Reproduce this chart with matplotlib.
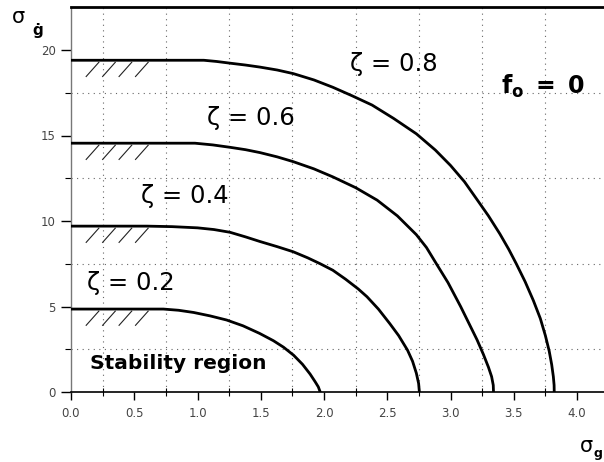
import numpy as np
import matplotlib
matplotlib.use("Agg")
import matplotlib.pyplot as plt
from matplotlib.ticker import MultipleLocator

# curves (sigma_g, sigma_gdot), one per damping ratio
zeta = [0.2, 0.4, 0.6, 0.8]

x_02 = [0.0, 0.73, 0.85, 0.97, 1.1, 1.23, 1.36, 1.49, 1.6, 1.68, 1.76, 1.83,
        1.89, 1.93, 1.955, 1.97]
y_02 = [4.85, 4.85, 4.78, 4.65, 4.45, 4.21, 3.87, 3.43, 3.0, 2.62, 2.15, 1.62,
        1.05, 0.6, 0.3, 0.0]

x_04 = [0.0, 0.6, 0.8, 1.0, 1.13, 1.257, 1.38, 1.494, 1.63, 1.757, 1.87, 1.97,
        2.07, 2.17, 2.27, 2.34, 2.43, 2.52, 2.59, 2.66, 2.70, 2.73, 2.748, 2.754]
y_04 = [9.7, 9.7, 9.67, 9.6, 9.5, 9.34, 9.07, 8.8, 8.5, 8.2, 7.85, 7.5,
        7.12, 6.6, 6.03, 5.57, 4.85, 4.0, 3.3, 2.45, 1.8, 1.1, 0.5, 0.0]

x_06 = [0.0, 0.98, 1.12, 1.257, 1.38, 1.494, 1.63, 1.757, 1.92, 2.07, 2.25, 2.42,
        2.58, 2.73, 2.81, 2.88, 2.98, 3.08, 3.15, 3.21, 3.26, 3.30, 3.325, 3.338, 3.34]
y_06 = [14.55, 14.55, 14.45, 14.31, 14.17, 14.0, 13.75, 13.47, 13.05, 12.58, 11.95, 11.22,
        10.3, 9.2, 8.45, 7.6, 6.4, 5.0, 3.95, 3.05, 2.2, 1.45, 0.9, 0.4, 0.0]

x_08 = [0.0, 1.05, 1.15, 1.257, 1.38, 1.494, 1.63, 1.757, 1.92, 2.07, 2.22, 2.38,
        2.55, 2.73, 2.88, 3.0, 3.11, 3.21, 3.30, 3.39, 3.46, 3.52, 3.59, 3.655,
        3.71, 3.75, 3.78, 3.80, 3.813, 3.819, 3.82]
y_08 = [19.4, 19.4, 19.33, 19.23, 19.12, 19.0, 18.83, 18.62, 18.25, 17.82, 17.33, 16.78,
        16.0, 15.1, 14.15, 13.25, 12.3, 11.25, 10.3, 9.25, 8.35, 7.5, 6.45, 5.35,
        4.3, 3.3, 2.4, 1.6, 0.9, 0.4, 0.0]

curves_x = [x_02, x_04, x_06, x_08]
curves_y = [y_02, y_04, y_06, y_08]

# label positions (data coords) for zeta texts
label_x = [0.47, 0.90, 1.42, 2.55]
label_y = [6.36, 11.45, 16.0, 19.2]

# hatch strokes under the flat part
hatch_x = [0.12, 0.25, 0.38, 0.51]

fig = plt.figure(figsize=(6.04, 4.62), dpi=100)
ax = fig.add_axes([71 / 604, 70 / 462, 1 - 71 / 604, (392 - 7.3) / 462])

for cx, cy in zip(curves_x, curves_y):
    ax.plot(cx, cy, color="black", lw=2.0, solid_joinstyle="round", zorder=3)
    lev = cy[0]
    for hx in hatch_x:
        ax.plot([hx, hx + 0.1], [lev - 0.95, lev - 0.12], color="#222222", lw=0.8, zorder=3)

for z, lx, ly in zip(zeta, label_x, label_y):
    ax.text(lx, ly, "ζ = {}".format(z), fontsize=17.5, ha="center", va="center")

ax.text(0.85, 1.68, "Stability region", fontsize=14.5, fontweight="bold",
        ha="center", va="center")
ax.text(3.40, 17.86, r"$\mathbf{f_o\ =\ 0}$", fontsize=17, ha="left", va="center")

ax.set_xlim(0, (604 - 71) / 126.5)
ax.set_ylim(0, (392 - 7.3) / 17.1)

ax.xaxis.set_major_locator(MultipleLocator(0.5))
ax.xaxis.set_minor_locator(MultipleLocator(0.25))
ax.yaxis.set_major_locator(MultipleLocator(5))
ax.yaxis.set_minor_locator(MultipleLocator(2.5))
ax.xaxis.set_major_formatter(matplotlib.ticker.FormatStrFormatter("%.1f"))

ax.tick_params(axis="x", which="major", direction="out", length=6, width=1,
               labelsize=8.5, labelcolor="#444444", pad=5)
ax.tick_params(axis="x", which="minor", direction="inout", length=6, width=0.8)
ax.tick_params(axis="y", which="major", direction="out", length=7, width=1,
               labelsize=8.5, labelcolor="#444444", pad=4)
ax.tick_params(axis="y", which="minor", direction="out", length=4, width=0.8)

ax.grid(True, which="minor", color="#666666", lw=0.8, linestyle=(0, (1, 4)))
ax.grid(False, which="major")

ax.spines["right"].set_visible(False)
ax.spines["top"].set_linewidth(2.0)
ax.spines["left"].set_color("#777777")
ax.spines["left"].set_linewidth(1.0)
ax.spines["bottom"].set_linewidth(1.2)

fig.text(12 / 604, 1 - 17 / 462, "σ", fontsize=15, ha="left", va="center")
fig.text(32 / 604, 1 - 30 / 462, "ġ", fontsize=11, fontweight="bold", ha="left", va="center")
fig.text(580 / 604, 1 - 446 / 462, "σ", fontsize=15, ha="left", va="center")
fig.text(593 / 604, 1 - 453 / 462, "g", fontsize=9, fontweight="bold", ha="left", va="center")

fig.savefig("out.png", dpi=100)
